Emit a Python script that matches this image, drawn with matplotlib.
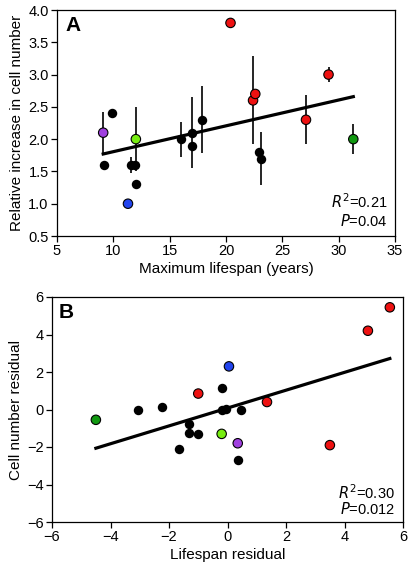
import matplotlib
matplotlib.use("Agg")
import matplotlib.pyplot as plt
import numpy as np

plt.rcParams['font.family'] = ['Liberation Sans', 'DejaVu Sans']

# ---- Panel A data ----
a_black_x = [9.2, 9.9, 11.6, 11.9, 12.0, 16.0, 17.0, 17.0, 17.9, 22.9, 23.1]
a_black_y = [1.6, 2.4, 1.6, 1.6, 1.3, 2.0, 2.1, 1.9, 2.3, 1.8, 1.7]
a_black_err = [0.0, 0.0, 0.13, 0.0, 0.0, 0.27, 0.55, 0.0, 0.52, 0.0, 0.41]

a_col_x = [9.1, 12.0, 11.3, 20.4, 22.4, 22.6, 27.1, 29.1, 31.3]
a_col_y = [2.1, 2.0, 1.0, 3.8, 2.6, 2.7, 2.3, 3.0, 2.0]
a_col_err = [0.32, 0.5, 0.0, 0.08, 0.68, 0.0, 0.38, 0.12, 0.23]
a_col_c = ['#a040e0', '#77ee11', '#2244ee', '#ee1111', '#ee1111', '#ee1111',
           '#ee1111', '#ee1111', '#119911']

a_fit_x = [9.1, 31.3]
a_fit_intercept = 1.406
a_fit_slope = 0.040

# ---- Panel B data ----
b_black_x = [-3.05, -2.25, -1.3, -1.3, -1.0, -1.65, -0.2, -0.2, -0.05, 0.45, 0.35]
b_black_y = [-0.05, 0.15, -0.75, -1.25, -1.3, -2.1, 1.15, -0.05, 0.05, -0.05, -2.7]

b_col_x = [-4.5, -1.0, 0.05, -0.2, 0.35, 1.35, 3.5, 4.8, 5.55]
b_col_y = [-0.55, 0.85, 2.3, -1.3, -1.8, 0.4, -1.9, 4.2, 5.45]
b_col_c = ['#119911', '#ee1111', '#2244ee', '#77ee11', '#a040e0', '#ee1111',
           '#ee1111', '#ee1111', '#ee1111']

b_fit_x = [-4.5, 5.55]
b_fit_intercept = 0.077
b_fit_slope = 0.476

fig = plt.figure(figsize=(4.08, 5.70), dpi=100)
axA = fig.add_axes([57/408, (570-236)/570, 338/408, 226/570])
axB = fig.add_axes([52/408, (570-522)/570, 351/408, 225/570])

ms = 6.8

def style(ax):
    for s in ax.spines.values():
        s.set_linewidth(0.9)
        s.set_color('black')
    ax.tick_params(direction='out', length=4, width=0.9, labelsize=10.5,
                   top=False, right=False, pad=2)

# Panel A
fx = np.array(a_fit_x)
axA.plot(fx, a_fit_intercept + a_fit_slope * fx, color='black', lw=2.3, zorder=2)
axA.errorbar(a_black_x, a_black_y, yerr=a_black_err, fmt='none', ecolor='black',
             elinewidth=1.2, capsize=0, zorder=3)
axA.errorbar(a_col_x, a_col_y, yerr=a_col_err, fmt='none', ecolor='black',
             elinewidth=1.2, capsize=0, zorder=3)
axA.scatter(a_black_x, a_black_y, s=ms**2, c='black', zorder=4, linewidths=0)
axA.scatter(a_col_x, a_col_y, s=ms**2, c=a_col_c, edgecolors='black',
            linewidths=0.8, zorder=5)
axA.set_xlim(5, 35)
axA.set_ylim(0.5, 4.0)
axA.set_xticks(np.arange(5, 36, 5))
axA.set_yticks(np.arange(0.5, 4.01, 0.5))
axA.set_yticklabels([f"{v:.1f}" for v in np.arange(0.5, 4.01, 0.5)])
axA.set_xlabel('Maximum lifespan (years)', fontsize=11, labelpad=3)
axA.set_ylabel('Relative increase in cell number', fontsize=11, labelpad=3)
axA.text(0.025, 0.975, 'A', transform=axA.transAxes, ha='left', va='top',
         fontsize=15, fontweight='bold')
axA.text(0.979, 0.11, r'$\mathit{R}^2$=0.21', transform=axA.transAxes,
         ha='right', va='bottom', fontsize=10.5)
axA.text(0.979, 0.03, r'$\mathit{P}$=0.04', transform=axA.transAxes,
         ha='right', va='bottom', fontsize=10.5)
style(axA)

# Panel B
gx = np.array(b_fit_x)
axB.plot(gx, b_fit_intercept + b_fit_slope * gx, color='black', lw=2.3, zorder=2)
axB.scatter(b_black_x, b_black_y, s=ms**2, c='black', zorder=4, linewidths=0)
axB.scatter(b_col_x, b_col_y, s=ms**2, c=b_col_c, edgecolors='black',
            linewidths=0.8, zorder=5)
axB.set_xlim(-6, 6)
axB.set_ylim(-6, 6)
axB.set_xticks(np.arange(-6, 7, 2))
axB.set_yticks(np.arange(-6, 7, 2))
axB.set_xticklabels([str(v).replace('-', '\u2212') for v in range(-6, 7, 2)])
axB.set_yticklabels([str(v).replace('-', '\u2212') for v in range(-6, 7, 2)])
axB.set_xlabel('Lifespan residual', fontsize=11, labelpad=3)
axB.set_ylabel('Cell number residual', fontsize=11, labelpad=3)
axB.text(0.02, 0.975, 'B', transform=axB.transAxes, ha='left', va='top',
         fontsize=15, fontweight='bold')
axB.text(0.977, 0.09, r'$\mathit{R}^2$=0.30', transform=axB.transAxes,
         ha='right', va='bottom', fontsize=10.5)
axB.text(0.977, 0.02, r'$\mathit{P}$=0.012', transform=axB.transAxes,
         ha='right', va='bottom', fontsize=10.5)
style(axB)

fig.savefig('out.png', dpi=100)
